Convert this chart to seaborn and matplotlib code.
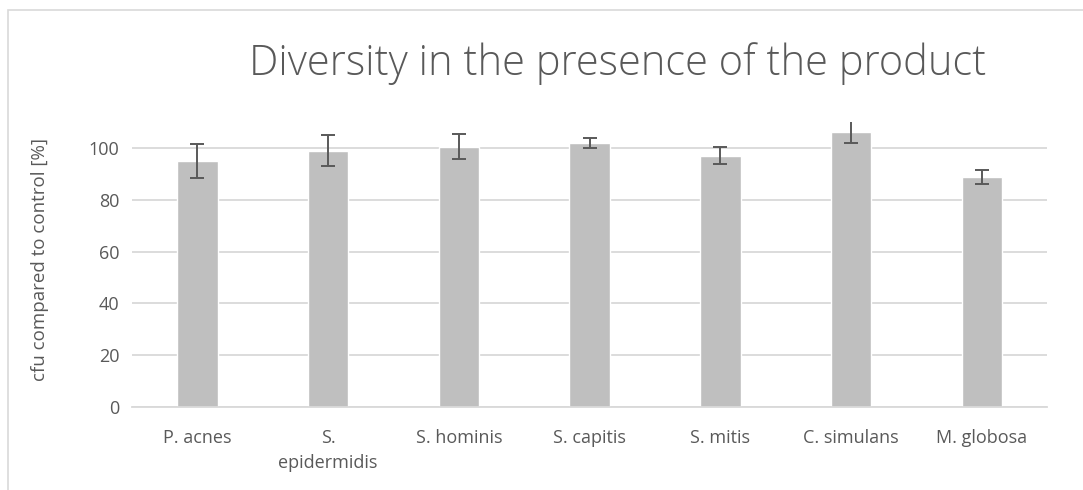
import pandas as pd
import numpy as np
import matplotlib
matplotlib.use('Agg')
import matplotlib.pyplot as plt
import seaborn as sns
from matplotlib.patches import Rectangle

# data
species = ['P. acnes', 'S.\nepidermidis', 'S. hominis', 'S. capitis',
           'S. mitis', 'C. simulans', 'M. globosa']
cfu_pct = [95.0, 99.0, 100.4, 101.9, 96.9, 106.3, 88.7]
cfu_err = [6.7, 6.0, 4.8, 2.0, 3.3, 4.5, 2.6]
y_ticks = [0, 20, 40, 60, 80, 100]

sns.set_theme(style='white')
plt.rcParams['font.family'] = ['Open Sans', 'DejaVu Sans']

text_col = '#595959'
grid_col = '#d9d9d9'

df = pd.DataFrame({'species': species, 'cfu': cfu_pct, 'err': cfu_err})

fig = plt.figure(figsize=(10.83, 4.9), dpi=100)
ax = fig.add_axes([0.1219, 0.1694, 0.8451, 0.5816])

sns.barplot(data=df, x='species', y='cfu', color='#bfbfbf', saturation=1,
            width=0.31, errorbar=None, ax=ax, zorder=2)
ax.errorbar(np.arange(len(df)), df['cfu'], yerr=df['err'], fmt='none',
            ecolor=text_col, elinewidth=1.4, capsize=4.7, capthick=1.4, zorder=3)

ax.set_ylim(0, 110)
ax.set_xlim(-0.5, len(df) - 0.5)
ax.set_yticks(y_ticks)
ax.yaxis.grid(True, color=grid_col, linewidth=1.3, zorder=0)
ax.set_axisbelow(True)
for s in ['top', 'right', 'left']:
    ax.spines[s].set_visible(False)
ax.spines['bottom'].set_color(grid_col)
ax.spines['bottom'].set_linewidth(1.3)
ax.tick_params(axis='both', length=0, colors=text_col, labelsize=13)
ax.tick_params(axis='x', pad=16)
ax.tick_params(axis='y', pad=9)
for lbl in ax.get_xticklabels():
    lbl.set_linespacing(1.45)
ax.set_xlabel('')
ax.set_ylabel('cfu compared to control [%]', color=text_col, fontsize=13.5)
ax.yaxis.set_label_coords(-0.0907, 0.516)

fig.text(0.57, 0.87, 'Diversity in the presence of the product',
         ha='center', va='center', fontsize=30, color=text_col, fontweight='light')

# chart frame
fig.patches.append(Rectangle((8 / 1083, -0.1), 1.2, 1 - 10 / 490 + 0.1,
                             transform=fig.transFigure, fill=False,
                             edgecolor=grid_col, linewidth=1.2))

fig.savefig('out.png', dpi=100)
